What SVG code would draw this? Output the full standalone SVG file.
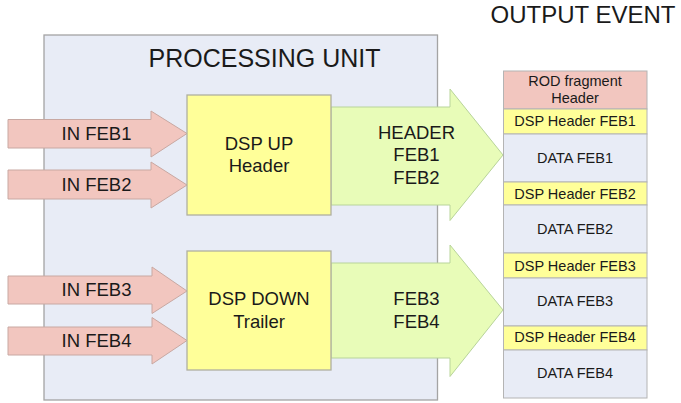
<svg xmlns="http://www.w3.org/2000/svg" width="681" height="403" viewBox="0 0 681 403">
  <style>
    text { font-family: "Liberation Sans", Arial, sans-serif; fill: #1a1a1a; text-anchor: middle; }
    .unit { fill: #e8ecf6; stroke: #a4a4a4; stroke-width: 1.3; }
    .in { fill: #f2c6bf; stroke: #c8a8a2; stroke-width: 1; }
    .dsp { fill: #ffff99; stroke: #b0b0a0; stroke-width: 1.3; }
    .out { fill: #e8fcb8; stroke: #b8d49a; stroke-width: 1; }
    .rod { fill: #f2c6bf; stroke: #b4b4b4; stroke-width: 1; }
    .hdr { fill: #ffff99; stroke: #b4b4b4; stroke-width: 1; }
    .data { fill: #e8ecf6; stroke: #b4b4b4; stroke-width: 1; }
    .lbl { font-size: 18.5px; }
    .cell { font-size: 14.5px; }
  </style>

  <!-- enclosing processing unit -->
  <g id="processing-unit">
    <rect class="unit" x="44" y="35" width="393.5" height="365"/>
    <text x="264.5" y="67" style="font-size:25px">PROCESSING UNIT</text>
  </g>

  <!-- output event heading -->
  <text x="583" y="22.5" style="font-size:24px">OUTPUT EVENT</text>

  <!-- input and output arrows -->
  <g id="connectors">
    <g id="in-feb1">
      <path class="in" d="M8,119.5 H151 V111 L187,133.5 L151,157 V148 H8 Z"/>
      <text class="lbl" x="96.5" y="139.5">IN FEB1</text>
    </g>
    <g id="in-feb2">
      <path class="in" d="M8,170 H151 V162 L187,185 L151,208 V199 H8 Z"/>
      <text class="lbl" x="96.5" y="191">IN FEB2</text>
    </g>
    <g id="in-feb3">
      <path class="in" d="M8,276 H152 V267 L187,291 L152,313.5 V304 H8 Z"/>
      <text class="lbl" x="96.5" y="296">IN FEB3</text>
    </g>
    <g id="in-feb4">
      <path class="in" d="M8,327 H152 V317.5 L187,340.5 L152,364 V355 H8 Z"/>
      <text class="lbl" x="96.5" y="346.5">IN FEB4</text>
    </g>
    <g id="out-up">
      <path class="out" d="M331,107 H450 V89 L503,155 L450,220.5 V205 H331 Z"/>
      <text class="lbl" x="416.5" y="138.5">HEADER</text>
      <text class="lbl" x="416.5" y="161">FEB1</text>
      <text class="lbl" x="416.5" y="183.5">FEB2</text>
    </g>
    <g id="out-down">
      <path class="out" d="M331,263 H450 V245 L503,310 L450,376.5 V358 H331 Z"/>
      <text class="lbl" x="416.5" y="305">FEB3</text>
      <text class="lbl" x="416.5" y="327.5">FEB4</text>
    </g>
  </g>

  <!-- DSP blocks -->
  <g id="dsp-up">
    <rect class="dsp" x="187" y="95" width="144" height="120"/>
    <text class="lbl" x="259" y="149.5">DSP UP</text>
    <text class="lbl" x="259" y="172">Header</text>
  </g>
  <g id="dsp-down">
    <rect class="dsp" x="187" y="251" width="144" height="119"/>
    <text class="lbl" x="259" y="305">DSP DOWN</text>
    <text class="lbl" x="259" y="327.5">Trailer</text>
  </g>

  <!-- output event fragment layout -->
  <g id="output-event">
    <rect class="rod" x="503.5" y="71" width="143.5" height="38"/>
    <text class="cell" x="575" y="86">ROD fragment</text>
    <text class="cell" x="575" y="103">Header</text>

    <rect class="hdr" x="503.5" y="109" width="143.5" height="25"/>
    <text class="cell" x="575" y="126">DSP Header FEB1</text>
    <rect class="data" x="503.5" y="134" width="143.5" height="48"/>
    <text class="cell" x="575" y="162.5">DATA FEB1</text>

    <rect class="hdr" x="503.5" y="182" width="143.5" height="23"/>
    <text class="cell" x="575" y="198.5">DSP Header FEB2</text>
    <rect class="data" x="503.5" y="205" width="143.5" height="48"/>
    <text class="cell" x="575" y="234">DATA FEB2</text>

    <rect class="hdr" x="503.5" y="253" width="143.5" height="25"/>
    <text class="cell" x="575" y="270.5">DSP Header FEB3</text>
    <rect class="data" x="503.5" y="278" width="143.5" height="48"/>
    <text class="cell" x="575" y="306">DATA FEB3</text>

    <rect class="hdr" x="503.5" y="326" width="143.5" height="24"/>
    <text class="cell" x="575" y="342">DSP Header FEB4</text>
    <rect class="data" x="503.5" y="350" width="143.5" height="48"/>
    <text class="cell" x="575" y="378">DATA FEB4</text>
  </g>
</svg>
